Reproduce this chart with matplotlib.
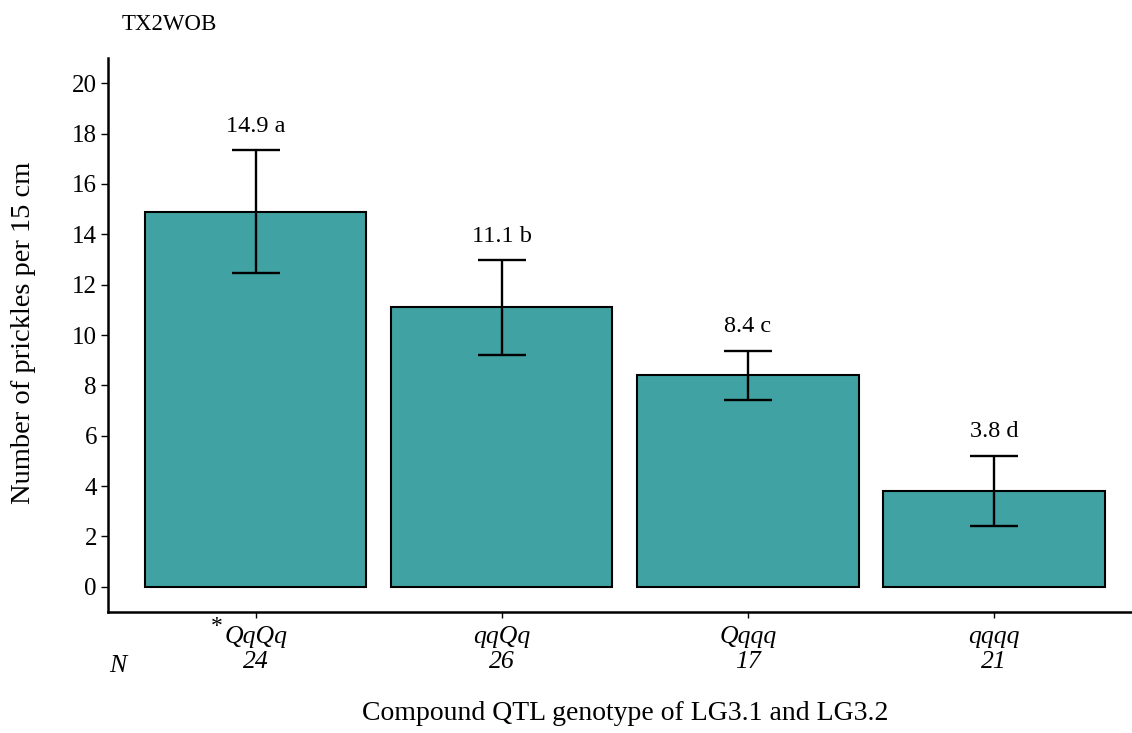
import matplotlib
matplotlib.use("Agg")
import matplotlib.pyplot as plt
import matplotlib.transforms as mtransforms
import numpy as np

plt.rcParams['font.family'] = ['Liberation Serif', 'DejaVu Serif']

# Data
genotypes = ["QqQq", "qqQq", "Qqqq", "qqqq"]
counts = [24, 26, 17, 21]
means = [14.9, 11.1, 8.4, 3.8]
errors = [2.43, 1.88, 0.98, 1.40]
groups = ["a", "b", "c", "d"]
y_ticks = [0, 2, 4, 6, 8, 10, 12, 14, 16, 18, 20]

W, H = 1132, 733
fig = plt.figure(figsize=(W / 100, H / 100), dpi=100)
ax = fig.add_axes([108 / W, 1 - 612 / H, (1141.5 - 108) / W, (612 - 58) / H])

def fy(py):
    """Figure fraction from a pixel row measured from the top."""
    return 1 - py / H

x = np.arange(len(genotypes))
ax.bar(x, means, width=0.9, color="#41A2A3", edgecolor="black", linewidth=1.5, zorder=2)
ax.errorbar(x, means, yerr=errors, fmt="none", ecolor="black", elinewidth=1.7,
            capsize=17.6, capthick=1.7, zorder=3)

for xi, m, e, g in zip(x, means, errors, groups):
    ax.text(xi, m + e + 0.95, f"{m:.1f} {g}", ha="center", va="center", fontsize=17.5)

ax.set_xlim(-0.6, 3.6)
ax.set_ylim(-1, 21)
ax.set_yticks(y_ticks)
ax.set_yticklabels([str(t) for t in y_ticks], fontsize=18)
ax.set_xticks(x)
ax.set_xticklabels([])

for side in ("top", "right"):
    ax.spines[side].set_visible(False)
for side in ("left", "bottom"):
    ax.spines[side].set_linewidth(1.8)
ax.tick_params(axis="y", length=5, width=1.0, pad=3)
ax.tick_params(axis="x", length=4, width=1.0)

# Genotype and sample-size labels under each bar
trans = mtransforms.blended_transform_factory(ax.transData, fig.transFigure)
for xi, g, n in zip(x, genotypes, counts):
    ax.text(xi, fy(643), g, transform=trans, ha="center", va="baseline",
            fontsize=18.5, style="italic", clip_on=False)
    ax.text(xi, fy(668), str(n), transform=trans, ha="center", va="baseline",
            fontsize=18.5, style="italic", clip_on=False)

# Marker for the reference genotype
fig.text(217 / W, fy(626), "*", ha="center", va="center", fontsize=17)

# Sample size row label
fig.text(118 / W, fy(672), "N", ha="center", va="baseline",
         fontsize=18.5, style="italic")

fig.text(30 / W, fy(332.5), "Number of prickles per 15 cm", rotation=90,
         rotation_mode="anchor", ha="center", va="baseline", fontsize=20.5)
fig.text(625 / W, fy(720), "Compound QTL genotype of LG3.1 and LG3.2",
         ha="center", va="baseline", fontsize=20)
fig.text(122 / W, fy(30), "TX2WOB", ha="left", va="baseline", fontsize=16.5)

fig.savefig("out.png", dpi=100, facecolor="white")
